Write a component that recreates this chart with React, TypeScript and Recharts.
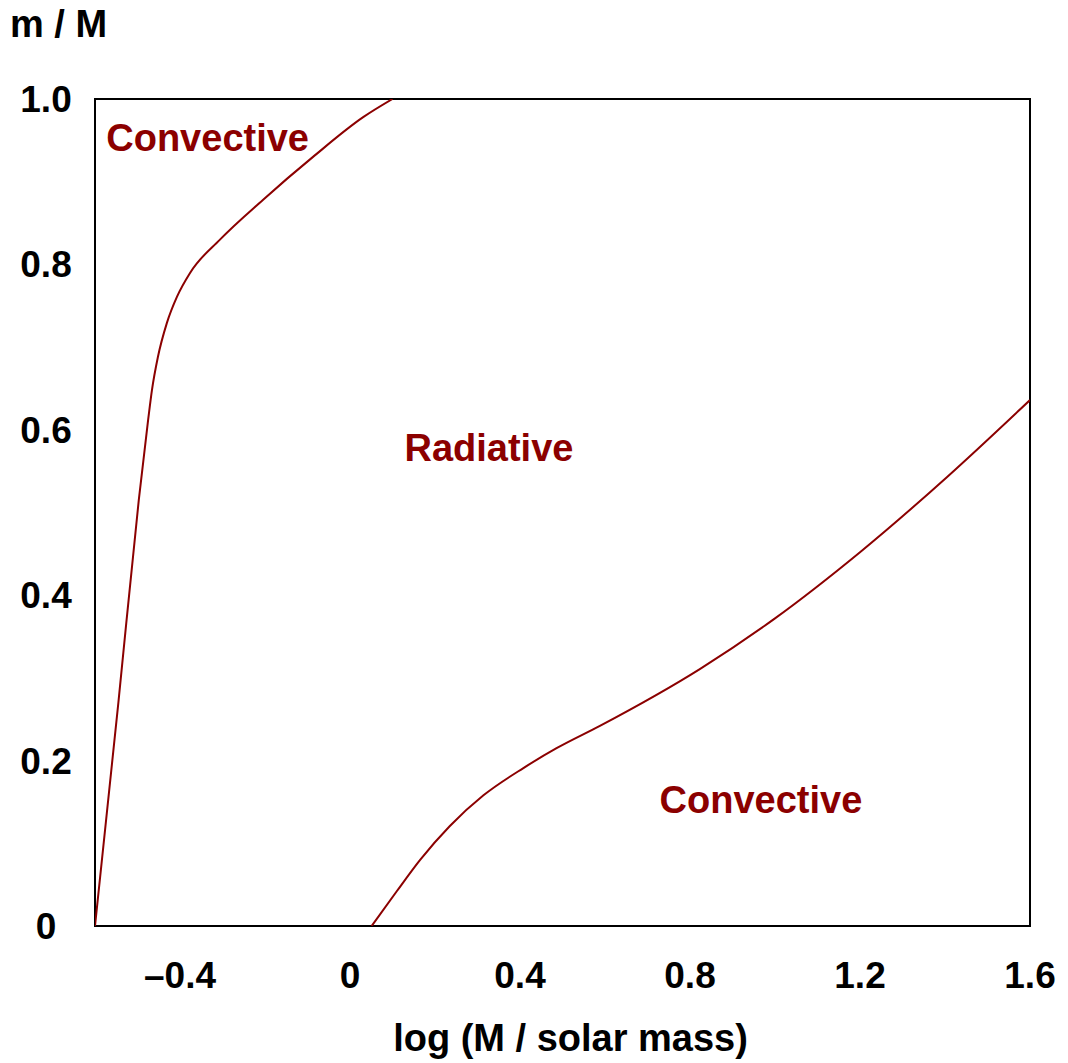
import { LineChart, Line, XAxis, YAxis, ReferenceArea, ReferenceDot } from 'recharts';

const FONT = '"Liberation Sans", Arial, Helvetica, sans-serif';
const LINE_RED = '#8b0000';

// left boundary (upper convective zone)
const envelopeX = [-0.6, -0.545, -0.497, -0.475, -0.466, -0.452, -0.431, -0.407, -0.376, -0.306, -0.205, -0.087, 0.031, 0.1];
const envelopeY = [0, 0.27, 0.515, 0.612, 0.648, 0.688, 0.729, 0.761, 0.79, 0.83, 0.878, 0.93, 0.978, 1.0];

// right boundary (convective core)
const coreX = [0.051, 0.11, 0.165, 0.235, 0.314, 0.408, 0.486, 0.588, 0.824, 1.0, 1.2, 1.405, 1.6];
const coreY = [0, 0.042, 0.08, 0.121, 0.158, 0.191, 0.215, 0.242, 0.311, 0.372, 0.452, 0.543, 0.636];

const xTicks = [-0.4, 0, 0.4, 0.8, 1.2, 1.6];
const yTicks = [0, 0.2, 0.4, 0.6, 0.8, 1.0];

const regionNames = ['Convective', 'Radiative', 'Convective'];
const regionX = [-0.335, 0.327, 0.967];
const regionY = [0.953, 0.579, 0.153];

const envelopeData = envelopeX.map((x, i) => ({ x, y: envelopeY[i] }));
const coreData = coreX.map((x, i) => ({ x, y: coreY[i] }));

const fmtX = (v: number) => (v === 0 ? '0' : v < 0 ? '\u2013' + Math.abs(v).toFixed(1) : v.toFixed(1));
const fmtY = (v: number) => (v === 0 ? '0' : v.toFixed(1));

const XTick = ({ x, y, payload }: any) => (
  <text x={x} y={y + 62} textAnchor="middle" fontFamily={FONT} fontWeight="bold" fontSize={37} fill="#000">
    {fmtX(payload.value)}
  </text>
);

const YTick = ({ x, y, payload }: any) => (
  <text x={x - 49} y={y + 13} textAnchor="middle" fontFamily={FONT} fontWeight="bold" fontSize={37} fill="#000">
    {fmtY(payload.value)}
  </text>
);

export default function App() {
  return (
    <div style={{ position: 'absolute', left: 0, top: 0, background: '#fff' }}>
      <LineChart width={1068} height={1063} margin={{ top: 99, right: 38, bottom: 0, left: 0 }}>
        <XAxis
          type="number"
          dataKey="x"
          domain={[-0.6, 1.6]}
          ticks={xTicks}
          allowDataOverflow
          height={137}
          axisLine={false}
          tickLine={false}
          tickSize={0}
          tickMargin={0}
          tick={<XTick />}
          label={{
            content: ({ viewBox }: any) => (
              <text
                x={viewBox.x + viewBox.width / 2 + 8}
                y={1051}
                textAnchor="middle"
                fontFamily={FONT}
                fontWeight="bold"
                fontSize={38}
                fill="#000"
              >
                log (M / solar mass)
              </text>
            ),
          }}
        />
        <YAxis
          type="number"
          dataKey="y"
          domain={[0, 1]}
          ticks={yTicks}
          allowDataOverflow
          width={95}
          axisLine={false}
          tickLine={false}
          tickSize={0}
          tickMargin={0}
          tick={<YTick />}
          label={{
            content: () => (
              <text x={10} y={37} fontFamily={FONT} fontWeight="bold" fontSize={38} fill="#000">
                m / M
              </text>
            ),
          }}
        />
        <ReferenceArea x1={-0.6} x2={1.6} y1={0} y2={1} fill="none" fillOpacity={0} stroke="#000" strokeWidth={2} />
        <Line
          data={envelopeData}
          dataKey="y"
          type="monotone"
          stroke={LINE_RED}
          strokeWidth={2}
          dot={false}
          activeDot={false}
          isAnimationActive={false}
        />
        <Line
          data={coreData}
          dataKey="y"
          type="monotone"
          stroke={LINE_RED}
          strokeWidth={2}
          dot={false}
          activeDot={false}
          isAnimationActive={false}
        />
        {regionNames.map((name, i) => (
          <ReferenceDot
            key={i}
            x={regionX[i]}
            y={regionY[i]}
            r={0}
            fill="none"
            stroke="none"
            label={{ value: name, position: 'center', fill: LINE_RED, fontSize: 38, fontWeight: 'bold', fontFamily: FONT }}
          />
        ))}
      </LineChart>
    </div>
  );
}
